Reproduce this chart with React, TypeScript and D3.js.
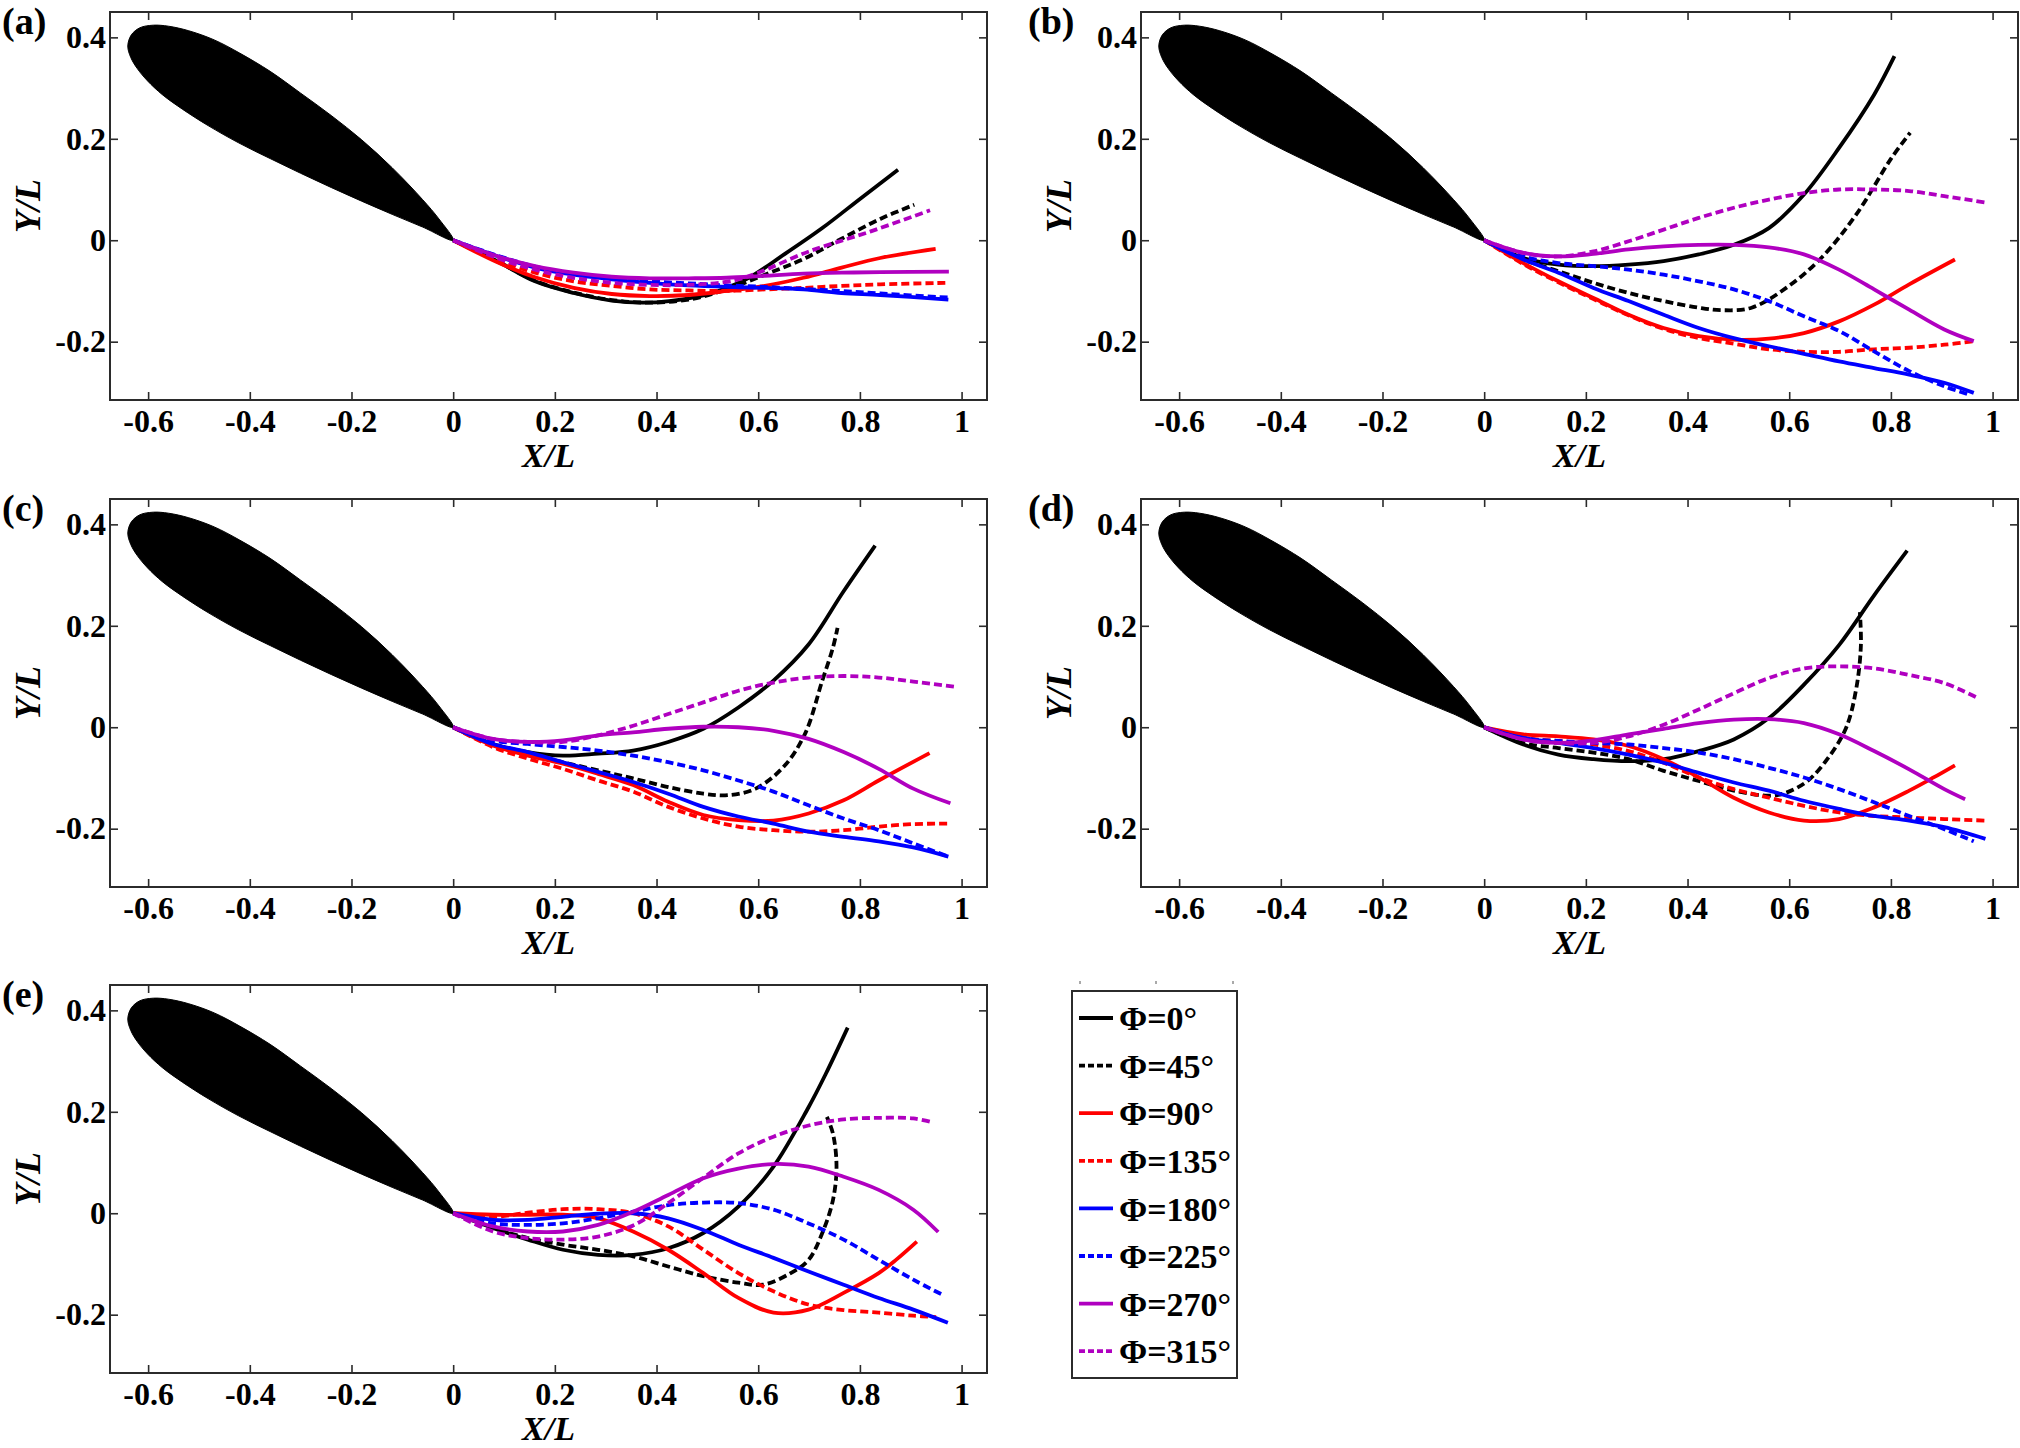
import React, { useEffect, useRef } from "react";
import * as d3 from "d3";

type Pt = [number, number];

/* ---- axis / label data ---- */
const xTicks = [-0.6, -0.4, -0.2, 0, 0.2, 0.4, 0.6, 0.8, 1];
const yTicks = [-0.2, 0, 0.2, 0.4];
const xDomain: [number, number] = [-0.675, 1.05];
const yDomain: [number, number] = [-0.315, 0.45];
const panelLabels = ["(a)", "(b)", "(c)", "(d)", "(e)"];
const phiLabels = ["Φ=0°", "Φ=45°", "Φ=90°", "Φ=135°", "Φ=180°", "Φ=225°", "Φ=270°", "Φ=315°"];

/* ---- foil outline (leading edge -> trailing edge) ---- */
const foilUpper: Pt[] = [
  [-0.64, 0.383], [-0.633, 0.405], [-0.616, 0.419], [-0.59, 0.424], [-0.56, 0.422],
  [-0.52, 0.413], [-0.47, 0.395], [-0.42, 0.369], [-0.36, 0.333], [-0.3, 0.29],
  [-0.24, 0.246], [-0.18, 0.198], [-0.12, 0.143], [-0.06, 0.08], [-0.028, 0.042], [0, 0],
];
const foilLower: Pt[] = [
  [-0.64, 0.383], [-0.634, 0.36], [-0.621, 0.338], [-0.601, 0.314], [-0.572, 0.287],
  [-0.532, 0.258], [-0.482, 0.226], [-0.422, 0.192], [-0.36, 0.161], [-0.3, 0.132],
  [-0.24, 0.104], [-0.18, 0.077], [-0.12, 0.051], [-0.06, 0.026], [0, 0],
];

/* ---- panel (a) ---- */
const a0: Pt[] = [[0, 0], [0.086, -0.041], [0.161, -0.081], [0.237, -0.104], [0.312, -0.119], [0.372, -0.123], [0.425, -0.12], [0.5, -0.107], [0.576, -0.077], [0.651, -0.028], [0.726, 0.024], [0.802, 0.083], [0.875, 0.139]];
const a45: Pt[] = [[0, 0], [0.086, -0.041], [0.161, -0.08], [0.237, -0.103], [0.312, -0.118], [0.387, -0.123], [0.463, -0.117], [0.538, -0.097], [0.613, -0.068], [0.689, -0.037], [0.764, 0.003], [0.84, 0.042], [0.907, 0.07]];
const a90: Pt[] = [[0, 0], [0.086, -0.043], [0.161, -0.073], [0.237, -0.094], [0.312, -0.106], [0.387, -0.11], [0.463, -0.108], [0.538, -0.1], [0.613, -0.09], [0.689, -0.074], [0.764, -0.054], [0.84, -0.035], [0.949, -0.017]];
const a135: Pt[] = [[0, 0], [0.086, -0.038], [0.161, -0.064], [0.237, -0.081], [0.312, -0.09], [0.387, -0.097], [0.463, -0.099], [0.538, -0.1], [0.613, -0.097], [0.689, -0.094], [0.764, -0.09], [0.84, -0.087], [0.968, -0.084]];
const a180: Pt[] = [[0, 0], [0.086, -0.031], [0.161, -0.054], [0.237, -0.068], [0.312, -0.077], [0.387, -0.084], [0.463, -0.089], [0.538, -0.092], [0.613, -0.094], [0.689, -0.097], [0.764, -0.104], [0.84, -0.108], [0.974, -0.117]];
const a225: Pt[] = [[0, 0], [0.086, -0.03], [0.161, -0.052], [0.237, -0.066], [0.312, -0.075], [0.387, -0.081], [0.463, -0.085], [0.538, -0.089], [0.613, -0.092], [0.689, -0.096], [0.764, -0.1], [0.84, -0.105], [0.974, -0.113]];
const a270: Pt[] = [[0, 0], [0.086, -0.031], [0.161, -0.051], [0.237, -0.064], [0.312, -0.072], [0.387, -0.075], [0.463, -0.075], [0.538, -0.074], [0.613, -0.07], [0.689, -0.066], [0.764, -0.064], [0.84, -0.063], [0.975, -0.062]];
const a315: Pt[] = [[0, 0], [0.086, -0.035], [0.161, -0.058], [0.237, -0.074], [0.312, -0.084], [0.387, -0.088], [0.463, -0.088], [0.55, -0.08], [0.6, -0.064], [0.7, -0.022], [0.82, 0.017], [0.938, 0.059]];

/* ---- panel (b) ---- */
const b0: Pt[] = [[0, 0], [0.077, -0.035], [0.146, -0.048], [0.215, -0.051], [0.284, -0.048], [0.353, -0.041], [0.422, -0.028], [0.491, -0.009], [0.56, 0.024], [0.629, 0.09], [0.698, 0.182], [0.767, 0.287], [0.807, 0.363]];
const b45: Pt[] = [[0, 0], [0.077, -0.038], [0.146, -0.061], [0.215, -0.084], [0.284, -0.104], [0.353, -0.12], [0.422, -0.133], [0.47, -0.138], [0.526, -0.133], [0.594, -0.094], [0.663, -0.035], [0.732, 0.051], [0.801, 0.162], [0.838, 0.212]];
const b90: Pt[] = [[0, 0], [0.077, -0.045], [0.146, -0.081], [0.215, -0.114], [0.284, -0.147], [0.353, -0.173], [0.422, -0.189], [0.491, -0.196], [0.56, -0.194], [0.629, -0.183], [0.698, -0.16], [0.767, -0.127], [0.836, -0.087], [0.926, -0.038]];
const b135: Pt[] = [[0, 0], [0.077, -0.047], [0.146, -0.083], [0.215, -0.116], [0.284, -0.148], [0.353, -0.175], [0.422, -0.193], [0.491, -0.204], [0.56, -0.215], [0.629, -0.22], [0.698, -0.22], [0.767, -0.215], [0.836, -0.212], [0.905, -0.206], [0.963, -0.199]];
const b180: Pt[] = [[0, 0], [0.077, -0.038], [0.146, -0.064], [0.215, -0.094], [0.284, -0.12], [0.353, -0.147], [0.422, -0.173], [0.491, -0.193], [0.56, -0.209], [0.629, -0.224], [0.698, -0.239], [0.767, -0.252], [0.836, -0.265], [0.905, -0.281], [0.963, -0.301]];
const b225: Pt[] = [[0, 0], [0.077, -0.032], [0.146, -0.045], [0.215, -0.051], [0.284, -0.058], [0.353, -0.068], [0.422, -0.081], [0.491, -0.097], [0.56, -0.12], [0.629, -0.15], [0.698, -0.179], [0.767, -0.219], [0.836, -0.258], [0.905, -0.288], [0.953, -0.304]];
const b270: Pt[] = [[0, 0], [0.077, -0.025], [0.146, -0.032], [0.215, -0.027], [0.284, -0.018], [0.353, -0.012], [0.422, -0.009], [0.491, -0.009], [0.56, -0.014], [0.629, -0.028], [0.698, -0.058], [0.767, -0.097], [0.836, -0.137], [0.905, -0.176], [0.963, -0.199]];
const b315: Pt[] = [[0, 0], [0.077, -0.025], [0.146, -0.032], [0.215, -0.022], [0.284, -0.002], [0.353, 0.021], [0.422, 0.044], [0.491, 0.064], [0.56, 0.08], [0.629, 0.093], [0.698, 0.1], [0.767, 0.1], [0.836, 0.097], [0.905, 0.087], [0.988, 0.074]];

/* ---- panel (c) ---- */
const c0: Pt[] = [[0, 0], [0.078, -0.033], [0.147, -0.049], [0.216, -0.056], [0.285, -0.052], [0.354, -0.046], [0.423, -0.029], [0.492, -0.003], [0.561, 0.039], [0.63, 0.092], [0.699, 0.163], [0.768, 0.268], [0.83, 0.358]];
const c45: Pt[] = [[0, 0], [0.078, -0.033], [0.147, -0.052], [0.216, -0.069], [0.285, -0.085], [0.354, -0.101], [0.423, -0.118], [0.492, -0.131], [0.54, -0.134], [0.595, -0.121], [0.65, -0.078], [0.692, -0.013], [0.726, 0.092], [0.747, 0.157], [0.756, 0.196]];
const c90: Pt[] = [[0, 0], [0.078, -0.036], [0.147, -0.056], [0.216, -0.072], [0.285, -0.092], [0.354, -0.114], [0.423, -0.147], [0.492, -0.173], [0.561, -0.183], [0.63, -0.184], [0.699, -0.17], [0.768, -0.144], [0.837, -0.105], [0.937, -0.051]];
const c135: Pt[] = [[0, 0], [0.078, -0.039], [0.147, -0.062], [0.216, -0.082], [0.285, -0.105], [0.354, -0.127], [0.423, -0.157], [0.492, -0.18], [0.561, -0.196], [0.63, -0.203], [0.699, -0.206], [0.768, -0.203], [0.837, -0.196], [0.905, -0.191], [0.978, -0.19]];
const c180: Pt[] = [[0, 0], [0.078, -0.033], [0.147, -0.049], [0.216, -0.069], [0.285, -0.088], [0.354, -0.108], [0.423, -0.131], [0.492, -0.157], [0.561, -0.176], [0.63, -0.19], [0.699, -0.206], [0.768, -0.216], [0.837, -0.225], [0.905, -0.237], [0.974, -0.255]];
const c225: Pt[] = [[0, 0], [0.078, -0.026], [0.147, -0.033], [0.216, -0.039], [0.285, -0.046], [0.354, -0.056], [0.423, -0.069], [0.492, -0.085], [0.561, -0.105], [0.63, -0.127], [0.699, -0.154], [0.768, -0.18], [0.837, -0.203], [0.905, -0.229], [0.974, -0.255]];
const c270: Pt[] = [[0, 0], [0.078, -0.023], [0.147, -0.029], [0.216, -0.026], [0.285, -0.016], [0.354, -0.01], [0.423, -0.003], [0.492, 0.001], [0.561, 0.0], [0.63, -0.007], [0.699, -0.023], [0.768, -0.049], [0.837, -0.082], [0.905, -0.121], [0.978, -0.15]];
const c315: Pt[] = [[0, 0], [0.078, -0.023], [0.147, -0.029], [0.216, -0.029], [0.285, -0.016], [0.354, 0.003], [0.423, 0.026], [0.492, 0.049], [0.561, 0.072], [0.63, 0.088], [0.699, 0.098], [0.768, 0.101], [0.837, 0.098], [0.905, 0.09], [0.985, 0.08]];

/* ---- panel (d) ---- */
const d0: Pt[] = [[0, 0], [0.077, -0.034], [0.146, -0.054], [0.215, -0.063], [0.284, -0.067], [0.353, -0.063], [0.422, -0.047], [0.491, -0.024], [0.56, 0.018], [0.629, 0.084], [0.698, 0.162], [0.767, 0.26], [0.832, 0.348]];
const d45: Pt[] = [[0, 0], [0.077, -0.031], [0.146, -0.041], [0.215, -0.05], [0.284, -0.063], [0.353, -0.086], [0.422, -0.106], [0.491, -0.125], [0.56, -0.135], [0.594, -0.129], [0.636, -0.106], [0.677, -0.06], [0.712, -0.001], [0.732, 0.077], [0.741, 0.162], [0.739, 0.227]];
const d90: Pt[] = [[0, 0], [0.077, -0.014], [0.146, -0.018], [0.215, -0.024], [0.284, -0.037], [0.353, -0.063], [0.422, -0.099], [0.491, -0.139], [0.56, -0.168], [0.629, -0.184], [0.698, -0.181], [0.767, -0.158], [0.836, -0.125], [0.884, -0.099], [0.926, -0.075]];
const d135: Pt[] = [[0, 0], [0.077, -0.021], [0.146, -0.027], [0.215, -0.034], [0.284, -0.047], [0.353, -0.07], [0.422, -0.099], [0.491, -0.122], [0.56, -0.139], [0.629, -0.155], [0.698, -0.168], [0.767, -0.175], [0.836, -0.178], [0.905, -0.181], [0.984, -0.184]];
const d180: Pt[] = [[0, 0], [0.077, -0.021], [0.146, -0.031], [0.215, -0.041], [0.284, -0.054], [0.353, -0.07], [0.422, -0.09], [0.491, -0.109], [0.56, -0.125], [0.629, -0.145], [0.698, -0.161], [0.767, -0.175], [0.836, -0.184], [0.905, -0.197], [0.986, -0.22]];
const d225: Pt[] = [[0, 0], [0.077, -0.022], [0.146, -0.027], [0.215, -0.031], [0.284, -0.034], [0.353, -0.041], [0.422, -0.05], [0.491, -0.063], [0.56, -0.08], [0.629, -0.099], [0.698, -0.122], [0.767, -0.148], [0.836, -0.175], [0.905, -0.201], [0.963, -0.225]];
const d270: Pt[] = [[0, 0], [0.077, -0.024], [0.146, -0.031], [0.215, -0.026], [0.284, -0.014], [0.353, -0.003], [0.422, 0.008], [0.491, 0.015], [0.56, 0.016], [0.629, 0.008], [0.698, -0.014], [0.767, -0.047], [0.836, -0.083], [0.905, -0.122], [0.946, -0.142]];
const d315: Pt[] = [[0, 0], [0.077, -0.024], [0.146, -0.031], [0.215, -0.031], [0.284, -0.018], [0.353, 0.005], [0.422, 0.035], [0.491, 0.067], [0.56, 0.097], [0.629, 0.116], [0.698, 0.12], [0.767, 0.116], [0.836, 0.103], [0.905, 0.087], [0.97, 0.058]];

/* ---- panel (e) ---- */
const e0: Pt[] = [[0, 0], [0.078, -0.029], [0.147, -0.052], [0.216, -0.072], [0.285, -0.082], [0.354, -0.082], [0.423, -0.069], [0.492, -0.039], [0.561, 0.013], [0.63, 0.092], [0.699, 0.209], [0.733, 0.275], [0.776, 0.366]];
const e45: Pt[] = [[0, 0], [0.078, -0.029], [0.147, -0.049], [0.216, -0.062], [0.285, -0.072], [0.354, -0.085], [0.423, -0.105], [0.492, -0.124], [0.561, -0.137], [0.609, -0.141], [0.664, -0.118], [0.699, -0.092], [0.726, -0.039], [0.747, 0.026], [0.754, 0.092], [0.747, 0.157], [0.735, 0.19]];
const e90: Pt[] = [[0, 0], [0.078, -0.003], [0.147, -0.003], [0.216, -0.003], [0.285, -0.01], [0.354, -0.036], [0.423, -0.072], [0.492, -0.118], [0.561, -0.167], [0.63, -0.196], [0.699, -0.19], [0.768, -0.157], [0.837, -0.118], [0.871, -0.092], [0.912, -0.056]];
const e135: Pt[] = [[0, 0], [0.078, -0.007], [0.147, 0.001], [0.216, 0.008], [0.285, 0.008], [0.354, 0.0], [0.423, -0.026], [0.492, -0.072], [0.561, -0.118], [0.63, -0.154], [0.699, -0.18], [0.768, -0.191], [0.837, -0.196], [0.905, -0.202], [0.95, -0.205]];
const e180: Pt[] = [[0, 0], [0.078, -0.013], [0.147, -0.013], [0.216, -0.007], [0.285, -0.001], [0.354, 0.0], [0.423, -0.01], [0.492, -0.033], [0.561, -0.062], [0.63, -0.088], [0.699, -0.115], [0.768, -0.141], [0.837, -0.167], [0.905, -0.19], [0.973, -0.216]];
const e225: Pt[] = [[0, 0], [0.078, -0.02], [0.147, -0.023], [0.216, -0.02], [0.285, -0.01], [0.354, 0.003], [0.423, 0.016], [0.492, 0.021], [0.561, 0.02], [0.63, 0.007], [0.699, -0.02], [0.768, -0.052], [0.837, -0.092], [0.905, -0.131], [0.961, -0.16]];
const e270: Pt[] = [[0, 0], [0.078, -0.026], [0.147, -0.036], [0.216, -0.036], [0.285, -0.023], [0.354, 0.003], [0.423, 0.036], [0.492, 0.069], [0.561, 0.088], [0.63, 0.097], [0.699, 0.092], [0.768, 0.072], [0.837, 0.046], [0.905, 0.007], [0.954, -0.037]];
const e315: Pt[] = [[0, 0], [0.078, -0.036], [0.147, -0.049], [0.216, -0.052], [0.285, -0.046], [0.354, -0.024], [0.423, 0.02], [0.492, 0.07], [0.561, 0.118], [0.63, 0.151], [0.699, 0.173], [0.768, 0.185], [0.837, 0.188], [0.905, 0.187], [0.943, 0.179]];

const panelSeries: Pt[][][] = [
  [a0, a45, a90, a135, a180, a225, a270, a315],
  [b0, b45, b90, b135, b180, b225, b270, b315],
  [c0, c45, c90, c135, c180, c225, c270, c315],
  [d0, d45, d90, d135, d180, d225, d270, d315],
  [e0, e45, e90, e135, e180, e225, e270, e315],
];

const App = () => {
  const ref = useRef<SVGSVGElement>(null);

  useEffect(() => {
    /* Sizes & style */
    const width = 2020;
    const height = 1448;
    const fontFamily = "'Liberation Serif', 'Times New Roman', serif";
    const axW = 877;
    const axH = 388;
    const axisColor = "#2b2b2b";
    const colors = ["#000000", "#000000", "#ff0000", "#ff0000", "#0000ff", "#0000ff", "#b000c0", "#b000c0"];
    const dashed = [false, true, false, true, false, true, false, true];
    const lineWidth = 3.8;
    const dash = "8,4";

    /* Panel positions */
    const panels = [
      { left: 110, top: 12, labelX: 2 },
      { left: 1141, top: 12, labelX: 1028 },
      { left: 110, top: 499, labelX: 2 },
      { left: 1141, top: 499, labelX: 1028 },
      { left: 110, top: 985, labelX: 2 },
    ];

    const svg = d3.select(ref.current).attr("width", width).attr("height", height);
    svg.selectAll("*").remove();
    svg.append("rect").attr("width", width).attr("height", height).attr("fill", "#fff");

    const x = d3.scaleLinear().domain(xDomain).range([0, axW]);
    const y = d3.scaleLinear().domain(yDomain).range([axH, 0]);
    const fmt = (d: any) => String(+(+d).toFixed(1));

    const line = d3
      .line<Pt>()
      .x((d) => x(d[0]))
      .y((d) => y(d[1]))
      .curve(d3.curveCatmullRom.alpha(0.5));

    const foilPath = d3
      .line<Pt>()
      .x((d) => x(d[0]))
      .y((d) => y(d[1]))
      .curve(d3.curveCatmullRomClosed.alpha(0.5));

    panels.forEach((p, pi) => {
      const g = svg.append("g").attr("transform", `translate(${p.left},${p.top})`);

      /* foil */
      const outline = [...foilUpper, ...foilLower.slice(1, -1).reverse()];
      g.append("path")
        .attr("d", foilPath(outline))
        .attr("fill", "#000")
        .attr("stroke", "#000")
        .attr("stroke-width", 1);

      /* series */
      panelSeries[pi].forEach((s, si) => {
        g.append("path")
          .datum(s)
          .attr("d", line)
          .attr("fill", "none")
          .attr("stroke", colors[si])
          .attr("stroke-width", lineWidth)
          .attr("stroke-dasharray", dashed[si] ? dash : null)
          .attr("stroke-linejoin", "round");
      });

      /* axes */
      const styleAxis = (sel: any) => {
        sel.select(".domain").remove();
        sel.selectAll(".tick line").attr("stroke", axisColor).attr("stroke-width", 1.6);
        sel.selectAll(".tick text")
          .attr("fill", "#000")
          .attr("font-family", fontFamily)
          .attr("font-weight", "bold")
          .attr("font-size", 32);
      };
      g.append("g").attr("transform", `translate(0,${axH})`)
        .call(d3.axisBottom(x).tickValues(xTicks).tickSize(-8).tickSizeOuter(0).tickPadding(9).tickFormat(fmt))
        .call(styleAxis);
      g.append("g")
        .call(d3.axisTop(x).tickValues(xTicks).tickSize(-8).tickSizeOuter(0).tickFormat(() => ""))
        .call(styleAxis);
      g.append("g")
        .call(d3.axisLeft(y).tickValues(yTicks).tickSize(-8).tickSizeOuter(0).tickPadding(4).tickFormat(fmt))
        .call(styleAxis);
      g.append("g").attr("transform", `translate(${axW},0)`)
        .call(d3.axisRight(y).tickValues(yTicks).tickSize(-8).tickSizeOuter(0).tickFormat(() => ""))
        .call(styleAxis);

      /* box */
      g.append("rect")
        .attr("width", axW)
        .attr("height", axH)
        .attr("fill", "none")
        .attr("stroke", axisColor)
        .attr("stroke-width", 2);

      /* axis labels */
      g.append("text")
        .text("X/L")
        .attr("x", axW / 2)
        .attr("y", axH + 67)
        .attr("text-anchor", "middle")
        .attr("font-family", fontFamily)
        .attr("font-weight", "bold")
        .attr("font-style", "italic")
        .attr("font-size", 34);
      g.append("text")
        .text("Y/L")
        .attr("transform", `translate(-70,${axH / 2}) rotate(-90)`)
        .attr("text-anchor", "middle")
        .attr("font-family", fontFamily)
        .attr("font-weight", "bold")
        .attr("font-style", "italic")
        .attr("font-size", 36);

      /* panel label */
      svg.append("text")
        .text(panelLabels[pi])
        .attr("x", p.labelX)
        .attr("y", p.top + 22)
        .attr("font-family", fontFamily)
        .attr("font-weight", "bold")
        .attr("font-size", 38);
    });

    /* legend */
    const lg = svg.append("g");
    const lx = 1072;
    const ly = 991;
    const lw = 165;
    const lh = 387;
    [lx + 8, lx + 84, lx + 161].forEach((tx) => {
      lg.append("line").attr("x1", tx).attr("x2", tx).attr("y1", ly - 10).attr("y2", ly - 7)
        .attr("stroke", "#555").attr("stroke-width", 1);
    });
    lg.append("rect")
      .attr("x", lx).attr("y", ly).attr("width", lw).attr("height", lh)
      .attr("fill", "#fff").attr("stroke", axisColor).attr("stroke-width", 2);
    phiLabels.forEach((lab, i) => {
      const cy = ly + 27 + i * 47.6;
      lg.append("line")
        .attr("x1", lx + 7).attr("x2", lx + 41).attr("y1", cy).attr("y2", cy)
        .attr("stroke", colors[i]).attr("stroke-width", lineWidth)
        .attr("stroke-dasharray", dashed[i] ? "6,3" : null);
      lg.append("text")
        .text(lab)
        .attr("x", lx + 47)
        .attr("y", cy)
        .attr("dy", "0.36em")
        .attr("font-family", fontFamily)
        .attr("font-weight", "bold")
        .attr("font-size", 34);
    });
  }, []);

  return (
    <div style={{ position: "absolute", left: 0, top: 0 }}>
      <svg ref={ref} style={{ display: "block" }} />
    </div>
  );
};

export default App;
